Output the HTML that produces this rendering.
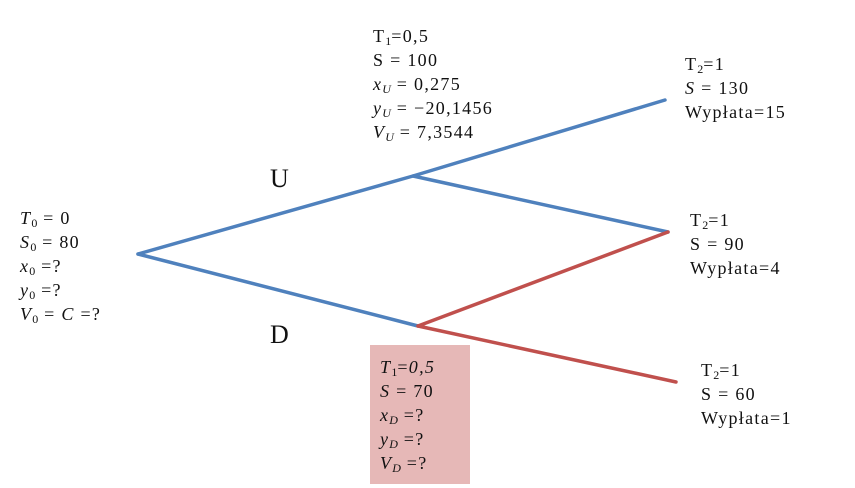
<!DOCTYPE html>
<html><head><meta charset="utf-8"><style>
body{margin:0;width:855px;height:488px;background:#fff;position:relative;overflow:hidden;font-family:"Liberation Serif",serif;font-size:18px;letter-spacing:1.3px;color:#111}
.t{position:absolute;white-space:nowrap;line-height:24px}
i{font-style:italic}
sub{font-size:12px;vertical-align:-3px;line-height:0;letter-spacing:0}
</style></head><body>
<div style="position:absolute;left:370px;top:345px;width:100px;height:139px;background:#e6b8b7"></div>
<svg width="855" height="488" style="position:absolute;left:0;top:0">
<g stroke-width="3.5" fill="none" stroke-linecap="round">
<polyline points="138,254 413,176 665,100" stroke="#4f81bd"/>
<line x1="413" y1="176" x2="668" y2="232" stroke="#4f81bd"/>
<line x1="138" y1="254" x2="418" y2="326" stroke="#4f81bd"/>
<line x1="418" y1="326" x2="668" y2="232" stroke="#c0504d"/>
<line x1="418" y1="326" x2="676" y2="382" stroke="#c0504d"/>
</g></svg>
<div class="t" style="left:20px;top:206px"><i>T</i><sub>0</sub> = 0<br><i>S</i><sub>0</sub> = 80<br><i>x</i><sub>0</sub> =?<br><i>y</i><sub>0</sub> =?<br><i>V</i><sub>0</sub> = <i>C</i> =?</div>
<div class="t" style="left:373px;top:24px">T<sub>1</sub>=0,5<br>S = 100<br><i>x<sub>U</sub></i> = 0,275<br><i>y<sub>U</sub></i> = −20,1456<br><i>V<sub>U</sub></i> = 7,3544</div>
<div class="t" style="left:685px;top:52px">T<sub>2</sub>=1<br><i>S</i> = 130<br>Wypłata=15</div>
<div class="t" style="left:690px;top:208px">T<sub>2</sub>=1<br>S = 90<br>Wypłata=4</div>
<div class="t" style="left:701px;top:358px">T<sub>2</sub>=1<br>S = 60<br>Wypłata=1</div>
<div class="t" style="left:380px;top:355px"><i>T</i><sub>1</sub>=<i>0,5</i><br><i>S</i> = 70<br><i>x<sub>D</sub></i> =?<br><i>y<sub>D</sub></i> =?<br><i>V<sub>D</sub></i> =?</div>
<div class="t" style="left:270px;top:164px;font-size:26px;line-height:30px">U</div>
<div class="t" style="left:270px;top:320px;font-size:26px;line-height:30px">D</div>
</body></html>
